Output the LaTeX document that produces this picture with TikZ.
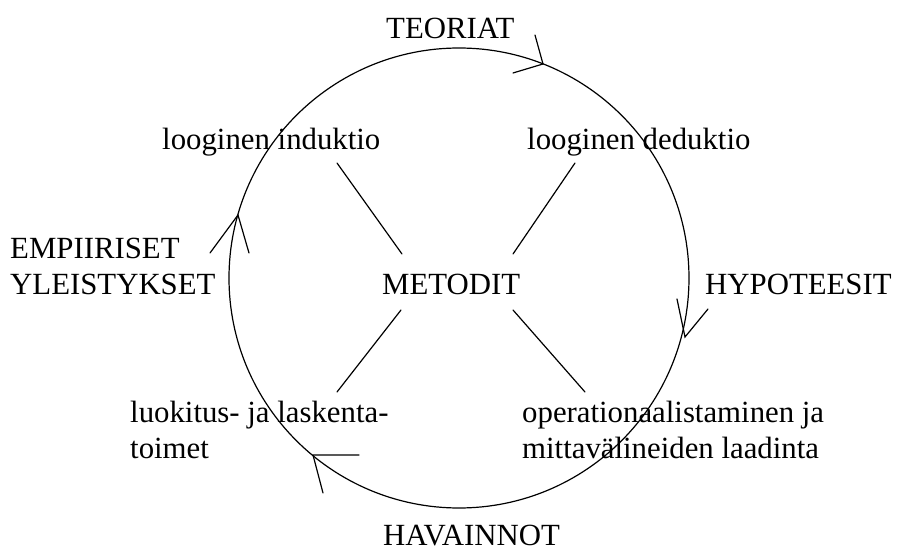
\documentclass[tikz,border=0pt]{standalone}
\usepackage{fontspec}
\setmainfont{Liberation Serif}
\begin{document}
\begin{tikzpicture}[x=1pt,y=-1pt,
  lbl/.style={inner sep=0pt,anchor=base west,font=\fontsize{30.8}{36}\selectfont,align=left},
  ln/.style={line width=1.2pt,line cap=round}]
\useasboundingbox (0,0) rectangle (898,553);
% circle
\coordinate (c) at (459,278);
\draw[ln] (c) circle[radius=230];
% labels (base = baseline of last line)
\node[lbl] (teo) at (386,39) {TEORIAT};
\node[lbl] (ind) at (162,150) {looginen induktio};
\node[lbl] (ded) at (527,150) {looginen deduktio};
\node[lbl] (emp) at (10,295) {EMPIIRISET\\YLEISTYKSET};
\node[lbl] (met) at (382,295) {METODIT};
\node[lbl] (hyp) at (705,295) {HYPOTEESIT};
\node[lbl] (luo) at (130,459) {luokitus- ja laskenta-\\toimet};
\node[lbl] (ope) at (522,459) {operationaalistaminen ja\\mittavälineiden laadinta};
\node[lbl] (hav) at (383,546) {HAVAINNOT};
% spokes
\coordinate (s1a) at (337,163); \coordinate (s1b) at (402,254);
\coordinate (s2a) at (575,163); \coordinate (s2b) at (513,254);
\coordinate (s3a) at (401,310); \coordinate (s3b) at (337,392);
\coordinate (s4a) at (513,310); \coordinate (s4b) at (585,392);
\draw[ln] (s1a) -- (s1b);
\draw[ln] (s2a) -- (s2b);
\draw[ln] (s3a) -- (s3b);
\draw[ln] (s4a) -- (s4b);
% arrowheads
\draw[ln] (535,35) -- (543,64) -- (513,73);
\draw[ln] (677,299) -- (685,337) -- (708,309);
\draw[ln] (359,455) -- (313,455) -- (323,493);
\draw[ln] (210,253) -- (238,215) -- (249,253);
\end{tikzpicture}
\end{document}
